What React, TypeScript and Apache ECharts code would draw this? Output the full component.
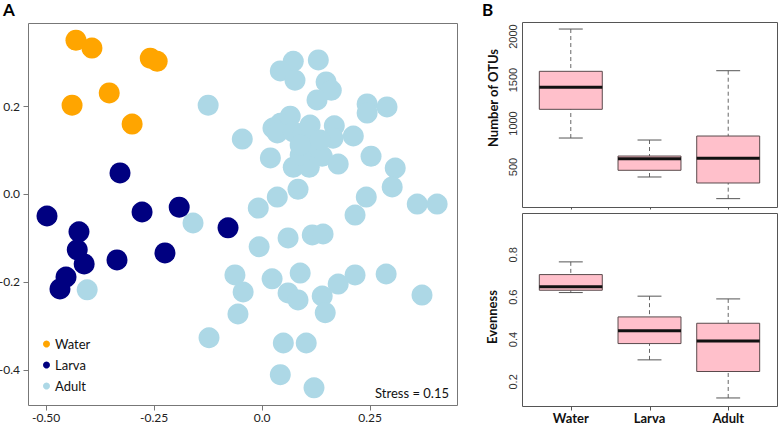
import React, { useEffect, useRef } from "react";
import * as echarts from "echarts";

// Panel A: NMDS coordinates
const waterPts = [
  [-0.431, 0.35], [-0.394, 0.332], [-0.259, 0.309], [-0.243, 0.302],
  [-0.44, 0.202], [-0.354, 0.23], [-0.301, 0.159],
];
const larvaPts = [
  [-0.498, -0.05], [-0.424, -0.086], [-0.428, -0.127], [-0.412, -0.159],
  [-0.454, -0.189], [-0.468, -0.216], [-0.329, 0.048], [-0.278, -0.041],
  [-0.192, -0.03], [-0.225, -0.134], [-0.336, -0.15], [-0.079, -0.077],
];
const adultPts = [
  [-0.125, 0.202], [-0.046, 0.125], [0.072, 0.302], [0.042, 0.28], [0.076, 0.259],
  [0.13, 0.305], [0.148, 0.255], [0.16, 0.236], [0.127, 0.214], [0.243, 0.205],
  [0.289, 0.198], [0.243, 0.184], [0.065, 0.177], [0.042, 0.161], [0.025, 0.15],
  [0.035, 0.139], [0.072, 0.141], [0.095, 0.139], [0.167, 0.155], [0.164, 0.127],
  [0.211, 0.132], [0.116, 0.116], [0.1, 0.105], [0.127, 0.095], [0.139, 0.086],
  [0.019, 0.082], [0.072, 0.061], [0.109, 0.061], [0.176, 0.068], [0.252, 0.086],
  [0.308, 0.059], [0.301, 0.016], [0.083, 0.011], [0.035, -0.007], [-0.009, -0.032],
  [0.241, -0.007], [0.215, -0.048], [0.359, -0.023], [0.405, -0.023], [-0.16, -0.066],
  [0.06, -0.1], [0.116, -0.093], [0.141, -0.091], [-0.007, -0.12], [-0.063, -0.184],
  [-0.044, -0.223], [-0.056, -0.273], [-0.123, -0.327], [-0.405, -0.218], [0.023, -0.193],
  [0.088, -0.18], [0.06, -0.225], [0.083, -0.241], [0.139, -0.232], [0.146, -0.27],
  [0.215, -0.184], [0.287, -0.182], [0.176, -0.205], [0.37, -0.23], [0.049, -0.339],
  [0.102, -0.339], [0.042, -0.411], [0.12, -0.441], [0.088, 0.089], [0.111, 0.157],
  [0.134, 0.123], [0.088, 0.111],
];
const aXTicks = [-0.5, -0.25, 0, 0.25];
const aXTickLabels = ["-0.50", "-0.25", "0.0", "0.25"];
const aYTicks = [-0.4, -0.2, 0, 0.2];
const aYTickLabels = ["-0.4", "-0.2", "0.0", "0.2"];
const stressText = "Stress = 0.15";

// Panel B: boxplot stats [low, q1, median, q3, high]
const groups = ["Water", "Larva", "Adult"];
const groupPos = [1, 2, 3];
const otuStats = [
  [833, 1163, 1416, 1600, 2086],
  [385, 462, 595, 626, 810],
  [136, 316, 600, 856, 1607],
];
const evenStats = [
  [0.622, 0.633, 0.649, 0.707, 0.767],
  [0.304, 0.381, 0.441, 0.507, 0.605],
  [0.124, 0.249, 0.393, 0.477, 0.592],
];
const evenOutliers = [[1, 0.962]];
const otuTicks = [500, 1000, 1500, 2000];
const evenTicks = [0.2, 0.4, 0.6, 0.8];
const evenTickLabels = ["0.2", "0.4", "0.6", "0.8"];

const FONT = "Lato, 'Open Sans', sans-serif";

function boxRender(params: any, api: any) {
  const x = api.value(0);
  const low = api.coord([x, api.value(1)]);
  const q1 = api.coord([x, api.value(2)]);
  const med = api.coord([x, api.value(3)]);
  const q3 = api.coord([x, api.value(4)]);
  const high = api.coord([x, api.value(5)]);
  const cx = low[0];
  const hw = api.size([0.8, 0])[0] / 2;
  const sw = hw * 0.38;
  const wStyle = { stroke: "#666", lineWidth: 1, lineDash: [4, 3] };
  const sStyle = { stroke: "#555", lineWidth: 1 };
  return {
    type: "group",
    children: [
      { type: "line", shape: { x1: cx, y1: high[1], x2: cx, y2: q3[1] }, style: wStyle },
      { type: "line", shape: { x1: cx, y1: low[1], x2: cx, y2: q1[1] }, style: wStyle },
      { type: "line", shape: { x1: cx - sw, y1: high[1], x2: cx + sw, y2: high[1] }, style: sStyle },
      { type: "line", shape: { x1: cx - sw, y1: low[1], x2: cx + sw, y2: low[1] }, style: sStyle },
      {
        type: "rect",
        shape: { x: cx - hw, y: q3[1], width: hw * 2, height: q1[1] - q3[1] },
        style: { fill: "#FFC0CB", stroke: "#5a4a4c", lineWidth: 1 },
      },
      {
        type: "line",
        shape: { x1: cx - hw, y1: med[1], x2: cx + hw, y2: med[1] },
        style: { stroke: "#111", lineWidth: 3 },
      },
    ],
  };
}

const findLabel = (ticks: number[], labels: string[]) => (v: number) =>
  labels[ticks.findIndex((t) => Math.abs(t - v) < 1e-9)] ?? "";

export default function App() {
  const ref = useRef<HTMLDivElement>(null);
  useEffect(() => {
    if (!ref.current) return;
    const chart = echarts.init(ref.current, null, { renderer: "svg" });

    const rA = { x: [-0.542, 0.451], y: [-0.48, 0.389] };
    const rB1 = { x: [0.38, 3.62], y: [40, 2167] };
    const rB2 = { x: [0.38, 3.62], y: [0.086, 0.998] };

    const hiddenLine = { show: false, onZero: false };
    const textGraphics: any[] = [
      { id: "tA", type: "text", left: 3, top: 1, style: { text: "A", fontSize: 17, fontWeight: "bold", fill: "#000", fontFamily: FONT } },
      { id: "tB", type: "text", left: 482, top: 1, style: { text: "B", fontSize: 17, fontWeight: "bold", fill: "#000", fontFamily: FONT } },
      {
        id: "tStress", type: "text", x: 449, y: 393,
        style: { text: stressText, fontSize: 13, fill: "#111", align: "right", verticalAlign: "middle", fontFamily: FONT },
      },
      {
        id: "tOtu", type: "text", x: 493, y: 98, rotation: Math.PI / 2,
        style: { text: "Number of OTUs", fontSize: 13, fontWeight: "bold", fill: "#111", align: "center", verticalAlign: "middle", fontFamily: FONT },
      },
      {
        id: "tEven", type: "text", x: 492, y: 317, rotation: Math.PI / 2,
        style: { text: "Evenness", fontSize: 13, fontWeight: "bold", fill: "#111", align: "center", verticalAlign: "middle", fontFamily: FONT },
      },
    ];
    const option: any = {
      animation: false,
      backgroundColor: "#fff",
      textStyle: { fontFamily: FONT },
      grid: [
        { left: 28, top: 23, width: 429, height: 382, outerBoundsMode: "none" },
        { left: 522, top: 22, width: 255, height: 185, outerBoundsMode: "none" },
        { left: 522, top: 213, width: 255, height: 193, outerBoundsMode: "none" },
      ],
      xAxis: [
        {
          type: "value", gridIndex: 0, position: "bottom", min: rA.x[0], max: rA.x[1],
          splitLine: { show: false }, axisLine: hiddenLine, axisTick: { show: false },
          axisLabel: {
            customValues: aXTicks, margin: 6, fontSize: 12, color: "#222", fontFamily: FONT,
            formatter: findLabel(aXTicks, aXTickLabels),
          },
        },
        {
          type: "value", gridIndex: 1, position: "bottom", min: rB1.x[0], max: rB1.x[1],
          splitLine: { show: false }, axisLine: hiddenLine, axisTick: { show: false },
          axisLabel: { show: false },
        },
        {
          type: "value", gridIndex: 2, position: "bottom", min: rB2.x[0], max: rB2.x[1],
          splitLine: { show: false }, axisLine: hiddenLine, axisTick: { show: false },
          axisLabel: {
            customValues: groupPos, margin: 5, fontSize: 13, fontWeight: "bold", color: "#111", fontFamily: FONT,
            formatter: findLabel(groupPos, groups),
          },
        },
      ],
      yAxis: [
        {
          type: "value", gridIndex: 0, position: "left", min: rA.y[0], max: rA.y[1],
          splitLine: { show: false }, axisLine: hiddenLine, axisTick: { show: false },
          axisLabel: {
            customValues: aYTicks, margin: 8, fontSize: 12, color: "#222", fontFamily: FONT,
            formatter: findLabel(aYTicks, aYTickLabels),
          },
        },
        {
          type: "value", gridIndex: 1, position: "left", min: rB1.y[0], max: rB1.y[1],
          splitLine: { show: false }, axisLine: hiddenLine, axisTick: { show: false },
          axisLabel: {
            customValues: otuTicks, rotate: 90, margin: 4, fontSize: 11, color: "#333",
            fontFamily: "'Liberation Sans', Arial, sans-serif",
            formatter: (v: number) => String(v),
          },
        },
        {
          type: "value", gridIndex: 2, position: "left", min: rB2.y[0], max: rB2.y[1],
          splitLine: { show: false }, axisLine: hiddenLine, axisTick: { show: false },
          axisLabel: {
            customValues: evenTicks, rotate: 90, margin: 4, fontSize: 11, color: "#333",
            fontFamily: "'Liberation Sans', Arial, sans-serif",
            formatter: findLabel(evenTicks, evenTickLabels),
          },
        },
      ],
      legend: {
        data: ["Water", "Larva", "Adult"],
        orient: "vertical",
        left: 43,
        top: 337,
        icon: "circle",
        itemWidth: 7,
        itemHeight: 7,
        itemGap: 7,
        textStyle: { fontSize: 13, lineHeight: 14, color: "#111", fontFamily: FONT },
        padding: 0,
      },
      series: [
        {
          name: "Adult", type: "scatter", xAxisIndex: 0, yAxisIndex: 0, z: 2,
          data: adultPts, symbolSize: 21, itemStyle: { color: "#ADD8E6", opacity: 1 },
        },
        {
          name: "Larva", type: "scatter", xAxisIndex: 0, yAxisIndex: 0, z: 2,
          data: larvaPts, symbolSize: 21, itemStyle: { color: "#000080", opacity: 1 },
        },
        {
          name: "Water", type: "scatter", xAxisIndex: 0, yAxisIndex: 0, z: 2,
          data: waterPts, symbolSize: 21, itemStyle: { color: "#FFA500", opacity: 1 },
        },
        {
          type: "custom", xAxisIndex: 1, yAxisIndex: 1, z: 2,
          data: otuStats.map((s, i) => [groupPos[i], ...s]),
          renderItem: boxRender, encode: { x: 0, y: [1, 2, 3, 4, 5] },
        },
        {
          type: "custom", xAxisIndex: 2, yAxisIndex: 2, z: 2,
          data: evenStats.map((s, i) => [groupPos[i], ...s]),
          renderItem: boxRender, encode: { x: 0, y: [1, 2, 3, 4, 5] },
        },
        {
          type: "scatter", xAxisIndex: 2, yAxisIndex: 2, z: 2,
          data: evenOutliers, symbol: "emptyCircle", symbolSize: 5,
          itemStyle: { color: "#fff", borderColor: "#444", borderWidth: 0.8 },
        },
      ],
      graphic: { elements: textGraphics },
    };
    chart.setOption(option);

    // Frames and tick marks, positioned through the grids' own scales
    const frames = [
      { gi: 0, r: rA, color: "#777", xt: aXTicks, xl: 5, yt: aYTicks, yl: 5 },
      { gi: 1, r: rB1, color: "#555", xt: groupPos, xl: 2, yt: [] as number[], yl: 0 },
      { gi: 2, r: rB2, color: "#555", xt: groupPos, xl: 4, yt: [] as number[], yl: 0 },
    ];
    const px = (v: number) => Math.round(v) + 0.5;
    const frameEls: any[] = [];
    frames.forEach((f, fi) => {
      const tl = chart.convertToPixel({ gridIndex: f.gi } as any, [f.r.x[0], f.r.y[1]]) as any;
      const br = chart.convertToPixel({ gridIndex: f.gi } as any, [f.r.x[1], f.r.y[0]]) as any;
      if (!tl || !br) return;
      const x0 = px(tl[0]), y0 = px(tl[1]), x1 = px(br[0]), y1 = px(br[1]);
      const st = { stroke: f.color, lineWidth: 1, fill: "none" };
      frameEls.push({
        id: "frame" + fi, type: "rect", z: 1, silent: true,
        shape: { x: x0, y: y0, width: x1 - x0, height: y1 - y0 },
        style: st,
      });
      f.xt.forEach((t, ti) => {
        const p = chart.convertToPixel({ gridIndex: f.gi } as any, [t, f.r.y[0]]) as any;
        const xx = px(p[0]);
        frameEls.push({
          id: "xt" + fi + "_" + ti, type: "line", z: 1, silent: true,
          shape: { x1: xx, y1: y1, x2: xx, y2: y1 + f.xl }, style: { stroke: f.color, lineWidth: 1 },
        });
      });
      f.yt.forEach((t, ti) => {
        const p = chart.convertToPixel({ gridIndex: f.gi } as any, [f.r.x[0], t]) as any;
        const yy = px(p[1]);
        frameEls.push({
          id: "yt" + fi + "_" + ti, type: "line", z: 1, silent: true,
          shape: { x1: x0 - f.yl, y1: yy, x2: x0, y2: yy }, style: { stroke: f.color, lineWidth: 1 },
        });
      });
    });
    chart.setOption({ graphic: { elements: [...textGraphics, ...frameEls] } });
    return () => chart.dispose();
  }, []);
  return (
    <div
      ref={ref}
      style={{ position: "absolute", left: 0, top: 0, width: 778, height: 423, background: "#fff" }}
    />
  );
}
